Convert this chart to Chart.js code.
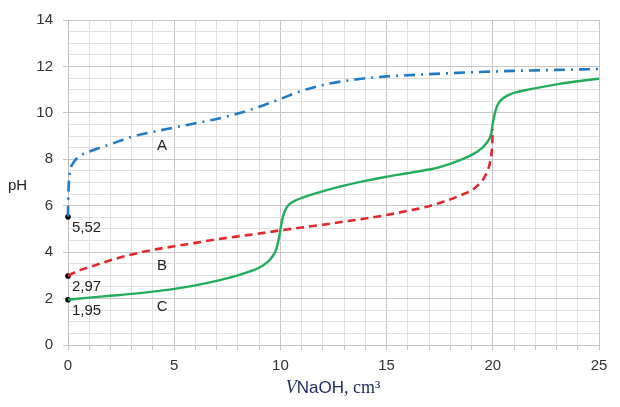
<!DOCTYPE html>
<html>
<head>
<meta charset="utf-8">
<script src="https://cdn.jsdelivr.net/npm/chart.js@4.4.1/dist/chart.umd.min.js"></script>
<style>
  html, body { margin: 0; padding: 0; background: #fff; }
  #wrap { width: 620px; height: 407px; }
</style>
</head>
<body>
<div id="wrap"><canvas id="titr"></canvas></div>
<script>
// curve A (dash-dot, blue)
const volA = [0, 0.01, 0.04, 0.1, 0.25, 0.5, 1, 2, 3, 4, 5, 6, 7, 8, 9, 10, 11, 12, 13, 14, 15, 16, 17, 18, 19, 20, 21, 22, 23, 24, 25];
const phA = [5.52, 6.2, 7.0, 7.5, 7.85, 8.1, 8.33, 8.65, 8.97, 9.18, 9.37, 9.55, 9.74, 9.97, 10.26, 10.6, 10.95, 11.2, 11.37, 11.49, 11.57, 11.62, 11.67, 11.71, 11.75, 11.78, 11.81, 11.83, 11.85, 11.87, 11.89];

// curve B (dashed, red)
const volB = [0, 0.25, 0.5, 1, 2, 3, 4, 5, 6, 7, 8, 9, 10, 11, 12, 13, 14, 15, 16, 17, 17.5, 18.4, 19.2, 19.7, 19.89, 19.97, 20];
const phB = [2.97, 3.1, 3.2, 3.35, 3.65, 3.9, 4.1, 4.25, 4.4, 4.55, 4.68, 4.8, 4.94, 5.06, 5.18, 5.32, 5.45, 5.6, 5.78, 5.98, 6.12, 6.42, 6.8, 7.4, 7.97, 8.6, 9.3];

// curve C (solid, green)
const volC = [0, 1, 2, 3, 4, 5, 6, 7, 8, 8.5, 9, 9.4, 9.6, 9.8, 9.93, 10.05, 10.12, 10.2, 10.3, 10.44, 10.65, 10.9, 11.7, 12.8, 14, 15, 16, 17, 17.5, 18.4, 19.2, 19.7, 19.93, 20, 20.07, 20.14, 20.22, 20.33, 20.5, 20.8, 21.2, 21.6, 23.15, 24, 25];
const phC = [1.95, 2.04, 2.12, 2.2, 2.3, 2.42, 2.57, 2.76, 3.0, 3.15, 3.33, 3.58, 3.78, 4.12, 4.6, 5.24, 5.52, 5.75, 5.93, 6.08, 6.2, 6.3, 6.54, 6.82, 7.07, 7.25, 7.4, 7.56, 7.66, 7.94, 8.29, 8.69, 9.12, 9.55, 9.87, 10.13, 10.33, 10.49, 10.64, 10.8, 10.91, 10.99, 11.25, 11.36, 11.47];

// starting pH values marked on the y axis
const startPH = [5.52, 2.97, 1.95];
const curveNames = ["A", "B", "C"];

function toXY(xs, ys) {
    return xs.map(function (x, i) { return { x: x, y: ys[i] }; });
}

const FONT = '"Liberation Sans", Arial, sans-serif';
const SERIF = '"Liberation Serif", "Times New Roman", serif';

// labels, axis names and start values drawn on top
const labelsPlugin = {
    id: "labels",
    afterDraw: function (chart) {
        const ctx = chart.ctx;
        const xs = chart.scales.x;
        const ys = chart.scales.y;
        ctx.save();
        ctx.fillStyle = "#222";
        ctx.font = "15px " + FONT;
        ctx.textBaseline = "middle";

        // curve letters
        ctx.textAlign = "center";
        const letterPH = [8.6, 3.45, 1.68];
        curveNames.forEach(function (n, i) {
            ctx.fillText(n, xs.getPixelForValue(4.43), ys.getPixelForValue(letterPH[i]) + 1);
        });

        // start values, comma decimal
        ctx.textAlign = "left";
        const x0 = xs.getPixelForValue(0);
        startPH.forEach(function (v) {
            ctx.fillText(v.toFixed(2).replace(".", ","), x0 + 4, ys.getPixelForValue(v) + 11);
        });

        // y axis name
        ctx.fillText("pH", 8, 186);

        // x axis name: italic V, NaOH, cm³
        const parts = [
            { t: "V", f: "italic 18px " + SERIF },
            { t: "NaOH", f: "17px " + FONT },
            { t: ", cm³", f: "18px " + SERIF }
        ];
        let total = 0;
        parts.forEach(function (p) { ctx.font = p.f; p.w = ctx.measureText(p.t).width; total += p.w; });
        let px = 333 - total / 2;
        ctx.fillStyle = "#1b2b5c";
        parts.forEach(function (p) {
            ctx.font = p.f;
            ctx.fillText(p.t, px, 388);
            px += p.w;
        });
        ctx.restore();
    }
};

new Chart(document.getElementById("titr"), {
    type: "scatter",
    data: {
        datasets: [
            {
                label: "A",
                data: toXY(volA, phA),
                showLine: true,
                borderColor: "#1f7bc4",
                borderWidth: 2.6,
                borderDash: [11, 6, 2, 6],
                cubicInterpolationMode: "monotone",
                pointRadius: 0,
                clip: false,
            },
            {
                label: "B",
                data: toXY(volB, phB),
                showLine: true,
                borderColor: "#de2a2e",
                borderWidth: 2.6,
                borderDash: [8, 5],
                cubicInterpolationMode: "monotone",
                pointRadius: 0,
                clip: false,
            },
            {
                label: "C",
                data: toXY(volC, phC),
                showLine: true,
                borderColor: "#21ad5c",
                borderWidth: 2.4,
                cubicInterpolationMode: "monotone",
                pointRadius: 0,
                clip: false,
            },
            {
                label: "start",
                data: startPH.map(function (v) { return { x: 0, y: v }; }),
                pointRadius: 2.8,
                pointBackgroundColor: "#000",
                pointBorderWidth: 0,
                clip: false,
            },
        ],
    },
    options: {
        responsive: true,
        maintainAspectRatio: false,
        animation: false,
        layout: {
            padding: { top: 20, right: 21, left: 0, bottom: 0 },
        },
        scales: {
            x: {
                type: "linear",
                min: 0,
                max: 25,
                afterFit: function (scale) { scale.height = 62; },
                border: { color: "#c2c2c2" },
                grid: {
                    color: function (c) { return c.tick && c.tick.value % 5 === 0 ? "#c6c6c6" : "#e0e0e0"; },
                    tickColor: "#c6c6c6",
                    tickLength: 5,
                },
                ticks: {
                    stepSize: 1,
                    autoSkip: false,
                    maxRotation: 0,
                    padding: 7,
                    color: "#333",
                    font: { family: FONT, size: 15 },
                    callback: function (v) { return v % 5 === 0 ? v : ""; },
                },
            },
            y: {
                min: 0,
                max: 14,
                afterFit: function (scale) { scale.width = 68; },
                border: { color: "#c2c2c2" },
                grid: {
                    color: function (c) { return c.tick && c.tick.value % 2 === 0 ? "#c6c6c6" : "#e0e0e0"; },
                    tickColor: function (c) { return c.tick && c.tick.value % 2 === 0 ? "#c6c6c6" : "rgba(0,0,0,0)"; },
                    tickLength: 5,
                },
                ticks: {
                    stepSize: 0.5,
                    autoSkip: false,
                    padding: 10,
                    color: "#333",
                    font: { family: FONT, size: 15 },
                    callback: function (v) { return v % 2 === 0 ? v : ""; },
                },
            },
        },
        plugins: {
            legend: { display: false },
            tooltip: { enabled: false },
        },
    },
    plugins: [labelsPlugin],
});
</script>
</body>
</html>
